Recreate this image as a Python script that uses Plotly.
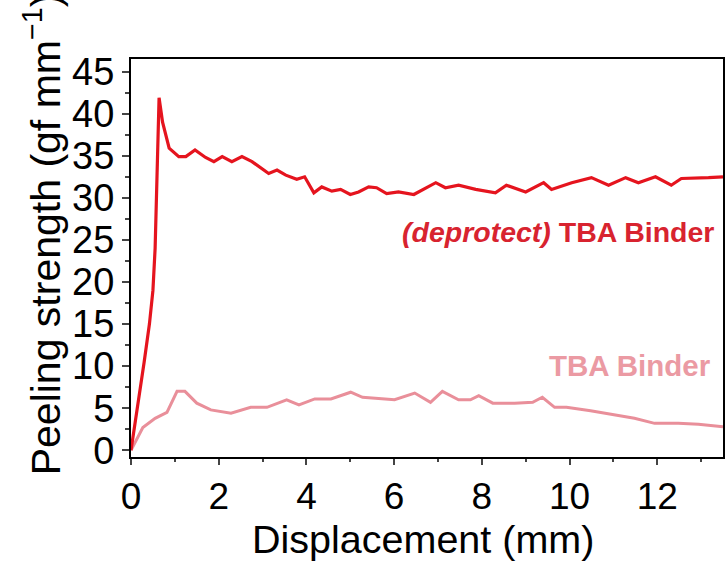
import plotly.graph_objects as go

# Deprotected TBA binder (red)
red_x = [0, 0.15, 0.3, 0.42, 0.5, 0.55, 0.6, 0.64, 0.72, 0.87, 1.09, 1.25, 1.46, 1.7, 1.89, 2.08, 2.3,
         2.53, 2.76, 3.14, 3.33, 3.53, 3.78, 3.96, 4.17, 4.35, 4.58, 4.78, 5.0, 5.19, 5.42, 5.6, 5.83,
         6.1, 6.45, 6.95, 7.17, 7.47, 7.86, 8.31, 8.56, 9.0, 9.41, 9.59, 10.05, 10.5, 10.89, 11.28,
         11.57, 11.96, 12.32, 12.55, 13.17, 13.5]
red_y = [0, 5.0, 10.5, 15.0, 19.0, 24.0, 33.0, 41.9, 39.0, 35.9, 34.9, 34.9, 35.7, 34.8, 34.3, 34.9, 34.3,
         34.9, 34.3, 32.9, 33.3, 32.7, 32.2, 32.5, 30.6, 31.3, 30.8, 31.0, 30.4, 30.7, 31.3, 31.2, 30.5,
         30.7, 30.4, 31.8, 31.2, 31.5, 31.0, 30.6, 31.5, 30.7, 31.8, 31.0, 31.8, 32.4, 31.5, 32.4,
         31.8, 32.5, 31.5, 32.3, 32.4, 32.5]

# TBA binder (pink)
pink_x = [0, 0.27, 0.55, 0.82, 1.05, 1.23, 1.5, 1.82, 2.28, 2.73, 3.1, 3.55, 3.83, 4.19, 4.56, 5.01, 5.28,
          6.01, 6.47, 6.83, 7.1, 7.47, 7.74, 7.93, 8.25, 8.75, 9.16, 9.38, 9.66, 9.93, 10.48, 11.03,
          11.48, 11.94, 12.48, 12.94, 13.5]
pink_y = [0, 2.7, 3.8, 4.5, 7.0, 7.0, 5.6, 4.8, 4.4, 5.1, 5.1, 6.0, 5.4, 6.1, 6.1, 6.9, 6.3,
          6.0, 6.8, 5.7, 7.0, 6.0, 6.0, 6.5, 5.6, 5.6, 5.7, 6.3, 5.1, 5.1, 4.7, 4.2,
          3.8, 3.2, 3.2, 3.1, 2.8]

x_ticks = [0, 2, 4, 6, 8, 10, 12]
y_ticks = [0, 5, 10, 15, 20, 25, 30, 35, 40, 45]

RED = "#e5141e"
PINK = "#e98f9a"
FONT = "Liberation Sans, Arial, sans-serif"

L, R, T, B = 131, 1, 59, 106
W, H = 726, 563
pw, ph = W - L - R, H - T - B


def px_x(px):
    return (px - L) / pw


def px_y(py):
    return (H - B - py) / ph


fig = go.Figure()
fig.add_trace(go.Scatter(x=pink_x, y=pink_y, mode="lines", line=dict(color=PINK, width=3), showlegend=False))
fig.add_trace(go.Scatter(x=red_x, y=red_y, mode="lines", line=dict(color=RED, width=3.2), showlegend=False))

fig.update_layout(
    width=W, height=H,
    margin=dict(l=L, r=R, t=T, b=B),
    plot_bgcolor="white", paper_bgcolor="white",
    font=dict(family=FONT, color="black"),
    xaxis=dict(range=[0, 13.5], tickvals=x_ticks, ticks="outside", ticklen=6, tickwidth=2,
               showline=True, linecolor="black", linewidth=2, mirror=True, showgrid=False, zeroline=False,
               tickfont=dict(size=37), minor=dict(dtick=1, ticks="outside", ticklen=3, tickwidth=2)),
    yaxis=dict(range=[-0.8, 46.5], tickvals=y_ticks, ticks="outside", ticklen=7, tickwidth=2,
               showline=True, linecolor="black", linewidth=2, mirror=True, showgrid=False, zeroline=False,
               tickfont=dict(size=38), minor=dict(dtick=2.5, tick0=0, ticks="outside", ticklen=4, tickwidth=2)),
    annotations=[
        dict(text="Peeling strength (gf mm<sup>−1</sup>)", x=px_x(42), y=px_y(234), xref="paper", yref="paper",
             xanchor="center", yanchor="middle", showarrow=False, textangle=-90, font=dict(size=41)),
        dict(text="Displacement (mm)", x=px_x(424), y=px_y(539), xref="paper", yref="paper",
             xanchor="center", yanchor="middle", showarrow=False, font=dict(size=39.5)),
        dict(text="<b><i>(deprotect)</i> TBA Binder</b>", x=9.73, y=25.9, xref="x", yref="y",
             showarrow=False, font=dict(size=28.5, color="#d8232f")),
        dict(text="<b>TBA Binder</b>", x=11.37, y=10.1, xref="x", yref="y",
             showarrow=False, font=dict(size=29.5, color="#eb9aa3")),
    ],
)
fig.write_html("out.html")
